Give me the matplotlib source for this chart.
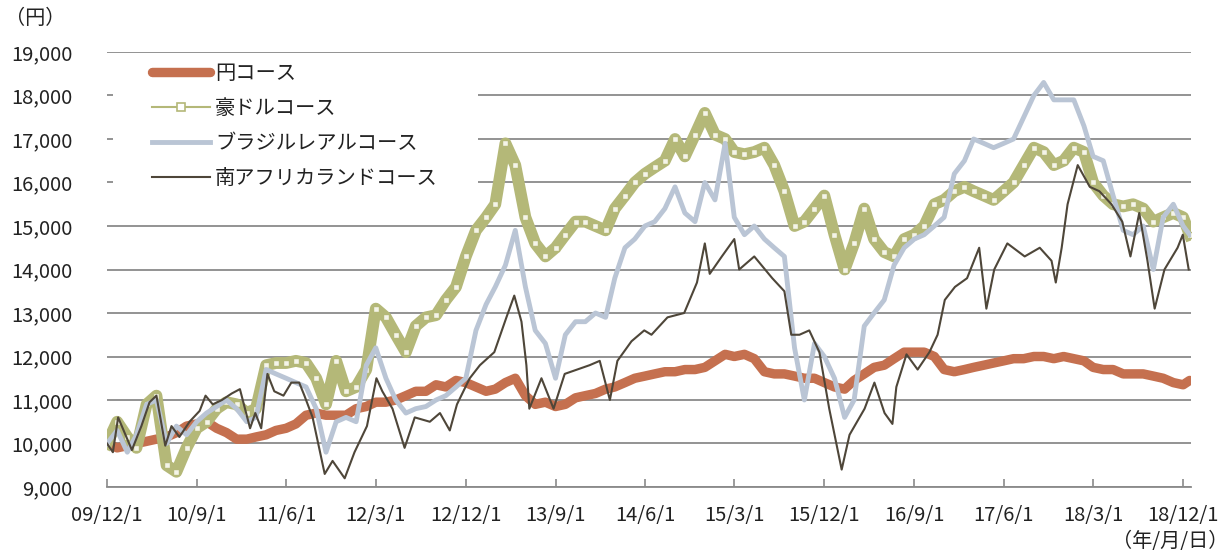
import matplotlib
matplotlib.use("Agg")
import matplotlib.pyplot as plt
from matplotlib.lines import Line2D
from matplotlib.patches import Rectangle
from matplotlib.ticker import FuncFormatter
import pandas as pd

plt.rcParams['font.family'] = ['Noto Sans CJK JP', 'DejaVu Sans']

# ---- data (monthly readings, 2009/12 .. 2018/12, plus last point) ----
dates = list(pd.date_range('2009-12-01', '2018-12-01', freq='MS')) + [pd.Timestamp('2018-12-21')]

jpy = [10000, 9900, 9950, 10000, 10050, 10100, 10150, 10250, 10400, 10450,
       10500, 10350, 10250, 10100, 10100, 10150, 10200, 10300, 10350, 10450,
       10650, 10700, 10650, 10650, 10650, 10800, 10850, 10950, 10950, 11000,
       11100, 11200, 11200, 11350, 11300, 11450, 11400, 11300, 11200, 11250,
       11400, 11500, 11100, 10900, 10950, 10850, 10900, 11050, 11100, 11150,
       11250, 11300, 11400, 11500, 11550, 11600, 11650, 11650, 11700, 11700,
       11750, 11900, 12050, 12000, 12050, 11950, 11650, 11600, 11600, 11550,
       11500, 11500, 11400, 11300, 11250, 11450, 11600, 11750, 11800, 11950,
       12100, 12100, 12100, 12000, 11700, 11650, 11700, 11750, 11800, 11850,
       11900, 11950, 11950, 12000, 12000, 11950, 12000, 11950, 11900, 11750,
       11700, 11700, 11600, 11600, 11600, 11550, 11500, 11400, 11350, 11450]

aud = [10000, 10500, 10150, 9900, 10900, 11100, 9500, 9350, 9900, 10350,
       10500, 10800, 10950, 10900, 10700, 10800, 11800, 11850, 11850, 11900,
       11850, 11500, 10900, 11900, 11200, 11300, 11700, 13100, 12900, 12500,
       12100, 12700, 12900, 12950, 13300, 13600, 14300, 14900, 15200, 15500,
       16900, 16400, 15200, 14600, 14300, 14500, 14800, 15100, 15100, 15000,
       14900, 15400, 15700, 16000, 16200, 16350, 16500, 17000, 16600, 17100,
       17600, 17100, 17000, 16700, 16650, 16700, 16800, 16400, 15800, 15000,
       15100, 15400, 15700, 14800, 14000, 14600, 15400, 14700, 14400, 14300,
       14700, 14800, 15000, 15500, 15600, 15800, 15900, 15800, 15700, 15600,
       15800, 16000, 16400, 16800, 16700, 16400, 16500, 16800, 16700, 16000,
       15700, 15500, 15450, 15500, 15400, 15100, 15200, 15300, 15200, 14800]

brl = [10000, 10300, 9800, 10200, 10900, 11000, 10000, 10400, 10200, 10500,
       10700, 10850, 11000, 10800, 10500, 10600, 11700, 11600, 11500, 11400,
       11300, 10800, 9800, 10500, 10600, 10500, 11800, 12200, 11500, 11000,
       10700, 10800, 10850, 11000, 11100, 11300, 11500, 12600, 13200, 13600,
       14100, 14900, 13600, 12600, 12300, 11500, 12500, 12800, 12800, 13000,
       12900, 13800, 14500, 14700, 15000, 15100, 15400, 15900, 15300, 15100,
       16000, 15600, 16900, 15200, 14800, 15000, 14700, 14500, 14300, 12200,
       11000, 12300, 12000, 11500, 10600, 11000, 12700, 13000, 13300, 14100,
       14500, 14700, 14800, 15000, 15200, 16200, 16500, 17000, 16900, 16800,
       16900, 17000, 17500, 18000, 18300, 17900, 17900, 17900, 17300, 16600,
       16500, 15700, 14900, 14800, 15000, 14000, 15200, 15500, 15000, 14800]

# South African rand course: readings at turning points
zar_dates = ['2009-12-01', '2009-12-19', '2010-01-04', '2010-02-15', '2010-03-16', '2010-04-10',
             '2010-05-01', '2010-05-28', '2010-06-16', '2010-07-10', '2010-08-10', '2010-09-10',
             '2010-09-28', '2010-10-20', '2010-11-17', '2010-12-17', '2011-01-11', '2011-02-11',
             '2011-02-27', '2011-03-17', '2011-04-05', '2011-04-26', '2011-05-24', '2011-06-17',
             '2011-07-11', '2011-07-27', '2011-08-21', '2011-09-27', '2011-10-21', '2011-11-27',
             '2011-12-27', '2012-02-03', '2012-03-03', '2012-03-21', '2012-04-21', '2012-05-28',
             '2012-06-28', '2012-08-13', '2012-09-13', '2012-10-13', '2012-11-04', '2012-12-13',
             '2013-01-13', '2013-02-26', '2013-04-04', '2013-04-28', '2013-05-20', '2013-06-04',
             '2013-06-13', '2013-07-20', '2013-08-26', '2013-09-29', '2013-12-14', '2014-01-14',
             '2014-02-14', '2014-03-09', '2014-04-21', '2014-05-30', '2014-06-21', '2014-08-09',
             '2014-09-29', '2014-11-07', '2014-12-01', '2014-12-16', '2015-01-22', '2015-03-01',
             '2015-03-16', '2015-05-01', '2015-06-25', '2015-08-01', '2015-08-22', '2015-09-16',
             '2015-10-16', '2015-11-16', '2015-12-16', '2016-01-23', '2016-02-16', '2016-04-02',
             '2016-05-02', '2016-06-02', '2016-06-26', '2016-07-08', '2016-08-08', '2016-09-11',
             '2016-10-17', '2016-11-11', '2016-12-03', '2017-01-03', '2017-02-09', '2017-03-18',
             '2017-04-09', '2017-05-03', '2017-06-12', '2017-08-04', '2017-09-19', '2017-10-25',
             '2017-11-07', '2017-11-25', '2017-12-13', '2018-01-13', '2018-02-19', '2018-03-20',
             '2018-04-26', '2018-05-29', '2018-06-23', '2018-07-20', '2018-08-14', '2018-09-05',
             '2018-10-05', '2018-11-14', '2018-11-30', '2018-12-18']
zar = [10000, 9800, 10600, 9850, 10400, 10950,
       11100, 9950, 10400, 10150, 10500, 10750,
       11100, 10900, 11000, 11150, 11250, 10350,
       10700, 10350, 11600, 11200, 11100, 11400,
       11400, 11100, 10600, 9300, 9600, 9200,
       9800, 10400, 11500, 11200, 10800, 9900,
       10600, 10500, 10700, 10300, 10900, 11500,
       11800, 12100, 12900, 13400, 12800, 11800,
       10800, 11500, 10800, 11600, 11800, 11900,
       11000, 11900, 12350, 12600, 12500, 12900,
       13000, 13700, 14600, 13900, 14300, 14700,
       14000, 14300, 13800, 13500, 12500, 12500,
       12600, 12100, 10800, 9400, 10200, 10800,
       11400, 10700, 10450, 11300, 12050, 11700,
       12100, 12500, 13300, 13600, 13800, 14500,
       13100, 14000, 14600, 14300, 14500, 14200,
       13700, 14500, 15500, 16400, 15900, 15800,
       15500, 15100, 14300, 15300, 14200, 13100,
       14000, 14500, 14800, 14000]

series_names = ['円コース', '豪ドルコース', 'ブラジルレアルコース', '南アフリカランドコース']
tick_dates = ['2009-12-01', '2010-09-01', '2011-06-01', '2012-03-01', '2012-12-01',
              '2013-09-01', '2014-06-01', '2015-03-01', '2015-12-01', '2016-09-01',
              '2017-06-01', '2018-03-01', '2018-12-01']
tick_labels = ['09/12/1', '10/9/1', '11/6/1', '12/3/1', '12/12/1', '13/9/1', '14/6/1',
               '15/3/1', '15/12/1', '16/9/1', '17/6/1', '18/3/1', '18/12/1']
y_ticks = [9000, 10000, 11000, 12000, 13000, 14000, 15000, 16000, 17000, 18000, 19000]

# ---- styling ----
c_jpy = '#C5704F'
c_aud = '#B4B878'
c_brl = '#BAC5D5'
c_zar = '#4E4639'
c_grid = '#8A8A8A'
c_text = '#222222'

W, H = 1232, 553
fig = plt.figure(figsize=(W / 100, H / 100), dpi=100)
ax = fig.add_axes([107 / W, 1 - 487 / H, (1191 - 107) / W, (487 - 52) / H])

ax.plot(dates, jpy, color=c_jpy, lw=6.8, solid_capstyle='round', solid_joinstyle='round', zorder=3)
ax.plot(dates, aud, color=c_aud, lw=8.5, solid_joinstyle='round', zorder=4)
ax.plot(dates, aud, color=c_aud, lw=1.2, marker='s', ms=5, mfc='#F4F4E8',
        mec=c_aud, mew=1.0, zorder=4.1)
ax.plot(dates, brl, color=c_brl, lw=3.5, zorder=5)
ax.plot(pd.to_datetime(zar_dates), zar, color=c_zar, lw=1.5, zorder=6)

ax.set_ylim(9000, 19000)
ax.set_xlim(pd.Timestamp('2009-12-01'), pd.Timestamp('2018-12-25'))
ax.set_yticks(y_ticks)
ax.yaxis.set_major_formatter(FuncFormatter(lambda v, p: f'{int(v):,}'))
ax.set_xticks([pd.Timestamp(d) for d in tick_dates])
ax.set_xticklabels(tick_labels)

for s in ['left', 'right', 'top']:
    ax.spines[s].set_visible(False)
ax.spines['bottom'].set_color(c_grid)
ax.spines['bottom'].set_linewidth(1.3)
ax.yaxis.grid(True, color=c_grid, lw=1.3, zorder=0)
ax.set_axisbelow(True)
ax.tick_params(axis='y', length=0, pad=25, labelsize=14.5, colors=c_text)
ax.tick_params(axis='x', direction='in', length=6, width=1.2, color=c_grid,
               pad=13, labelsize=14.5, labelcolor=c_text)

# white box behind legend (covers gridlines)
ax.add_patch(Rectangle((113 / W, 1 - 198 / H), (478 - 113) / W, (198 - 60) / H,
                       transform=fig.transFigure, facecolor='white', edgecolor='none',
                       zorder=1))

handles = [
    Line2D([], [], color=c_jpy, lw=6.8, solid_capstyle='round'),
    Line2D([], [], color=c_aud, lw=1.5, marker='s', ms=6, mfc='white', mec=c_aud, mew=1.2),
    Line2D([], [], color=c_brl, lw=3.5),
    Line2D([], [], color=c_zar, lw=1.5),
]
leg = fig.legend(handles, series_names, loc='upper left',
                 bbox_to_anchor=(152 / W, 1 - 63 / H), frameon=False,
                 fontsize=14.6, handlelength=2.86, handletextpad=0.25,
                 labelspacing=0.69, borderpad=0, borderaxespad=0)
for t in leg.get_texts():
    t.set_color(c_text)

fig.text(5 / W, 1 - 18 / H, '（円）', fontsize=14.5, color=c_text, va='center', ha='left')
fig.text(1228 / W, 1 - 542 / H, '（年/月/日）', fontsize=14.5, color=c_text,
         va='center', ha='right')

fig.savefig('out.png', dpi=100)
